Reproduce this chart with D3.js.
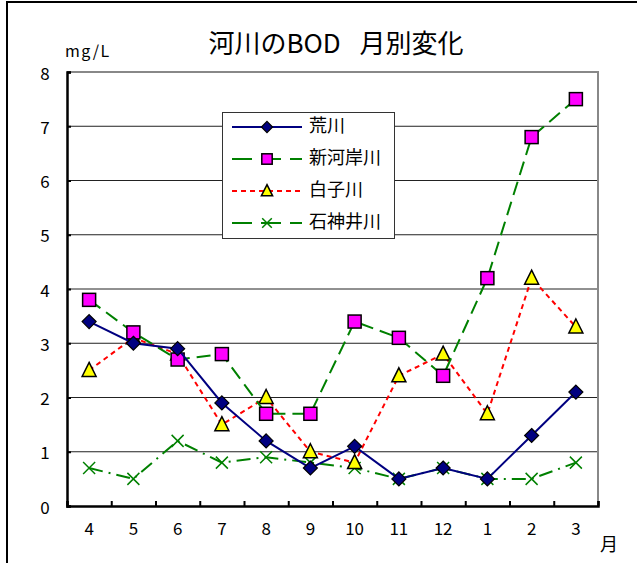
<!DOCTYPE html>
<html>
<head>
<meta charset="utf-8">
<script src="https://cdn.jsdelivr.net/npm/d3@7"></script>
<style>
  body { margin: 0; background: #fff; }
  text { font-family: "Noto Sans CJK JP", "DejaVu Sans", sans-serif; }
</style>
</head>
<body>
<div class="chartHolder"></div>
<script>
// chart data
var months = ["4", "5", "6", "7", "8", "9", "10", "11", "12", "1", "2", "3"];
var yTicks = [0, 1, 2, 3, 4, 5, 6, 7, 8];
var seriesNames = ["荒川", "新河岸川", "白子川", "石神井川"];
var arakawa = [3.4, 3.0, 2.9, 1.9, 1.2, 0.7, 1.1, 0.5, 0.7, 0.5, 1.3, 2.1];
var shingashi = [3.8, 3.2, 2.7, 2.8, 1.7, 1.7, 3.4, 3.1, 2.4, 4.2, 6.8, 7.5];
var shirako = [2.5, 3.1, 2.8, 1.5, 2.0, 1.0, 0.8, 2.4, 2.8, 1.7, 4.2, 3.3];
var shakujii = [0.7, 0.5, 1.2, 0.8, 0.9, 0.8, 0.7, 0.5, 0.7, 0.5, 0.5, 0.8];

var width = 637;
var height = 563;
var plot = { left: 67, top: 72, right: 598, bottom: 506 };

var svg = d3
  .select(".chartHolder")
  .append("svg")
  .attr("width", width)
  .attr("height", height);

// outer frame
svg.append("rect")
  .attr("x", 7).attr("y", 2)
  .attr("width", 700).attr("height", 700)
  .attr("fill", "none")
  .attr("stroke", "#000")
  .attr("stroke-width", 2);

var xScale = d3.scaleBand()
  .domain(months)
  .range([plot.left, plot.right]);

var yScale = d3.scaleLinear()
  .domain([0, 8])
  .range([plot.bottom, plot.top]);

// gridlines
svg.append("g")
  .selectAll("line")
  .data(yTicks.filter((d) => d > 0 && d < 8))
  .enter()
  .append("line")
  .attr("x1", plot.left)
  .attr("x2", plot.right)
  .attr("y1", (d) => yScale(d))
  .attr("y2", (d) => yScale(d))
  .attr("stroke", "#222")
  .attr("stroke-width", 1);

// plot border top/right (gray)
svg.append("path")
  .attr("d", "M" + plot.left + "," + plot.top + "H" + plot.right + "V" + plot.bottom)
  .attr("fill", "none")
  .attr("stroke", "#888")
  .attr("stroke-width", 2);

// y axis, ticks inside
var yAxis = d3.axisRight(yScale).tickValues(yTicks).tickSize(4).tickFormat("");
svg.append("g")
  .attr("transform", "translate(" + plot.left + ",0)")
  .call(yAxis)
  .call((g) => g.select(".domain").attr("stroke-width", 2.5))
  .call((g) => g.selectAll(".tick line").attr("stroke-width", 2));

svg.append("g")
  .selectAll("text")
  .data(yTicks)
  .enter()
  .append("text")
  .attr("x", 45)
  .attr("y", (d) => yScale(d) + 3)
  .attr("text-anchor", "middle")
  .attr("dominant-baseline", "middle")
  .attr("font-size", 17)
  .text((d) => d);

// x axis, ticks at category boundaries pointing up
var xBounds = d3.scaleLinear().domain([0, months.length]).range([plot.left, plot.right]);
var xAxis = d3.axisTop(xBounds).ticks(12).tickSize(5).tickFormat("");
svg.append("g")
  .attr("transform", "translate(0," + plot.bottom + ")")
  .call(xAxis)
  .call((g) => g.select(".domain").attr("stroke-width", 2.5))
  .call((g) => g.selectAll(".tick line").attr("stroke-width", 2));

svg.append("g")
  .selectAll("text")
  .data(months)
  .enter()
  .append("text")
  .attr("x", (d) => xScale(d) + xScale.bandwidth() / 2)
  .attr("y", 530)
  .attr("text-anchor", "middle")
  .attr("dominant-baseline", "middle")
  .attr("font-size", 17)
  .text((d) => d);

// labels
svg.append("text")
  .attr("x", 336).attr("y", 46)
  .attr("text-anchor", "middle")
  .attr("dominant-baseline", "middle")
  .attr("font-size", 26)
  .text("河川のBOD\u2002 月別変化");

svg.append("text")
  .attr("x", 65).attr("y", 53)
  .attr("dominant-baseline", "middle")
  .attr("font-size", 16)
  .attr("letter-spacing", 1.5)
  .text("mg/L");

svg.append("text")
  .attr("x", 609).attr("y", 546)
  .attr("text-anchor", "middle")
  .attr("dominant-baseline", "middle")
  .attr("font-size", 18)
  .text("月");

// series
var series = [
  { name: seriesNames[0], values: arakawa, color: "#000080", dash: null, legendDash: null, marker: "diamond" },
  { name: seriesNames[1], values: shingashi, color: "#008000", dash: "14,7", legendDash: "20,9", marker: "square" },
  { name: seriesNames[2], values: shirako, color: "#ff0000", dash: "5,4", legendDash: "5,4", marker: "triangle" },
  { name: seriesNames[3], values: shakujii, color: "#008000", dash: "14,6,2,6", legendDash: "20,9", marker: "cross" }
];

var line = d3.line()
  .x((d, i) => xScale(months[i]) + xScale.bandwidth() / 2)
  .y((d) => yScale(d));

function drawMarker(g, type, x, y, k) {
  k = k || 1;
  if (type === "diamond") {
    var r = 7 * k;
    g.append("path")
      .attr("d", "M" + x + "," + (y - r) + "L" + (x + r) + "," + y + "L" + x + "," + (y + r) + "L" + (x - r) + "," + y + "Z")
      .attr("fill", "#000080").attr("stroke", "#000").attr("stroke-width", 1.2);
  } else if (type === "square") {
    var s = 6.5 * k;
    g.append("rect")
      .attr("x", x - s).attr("y", y - s)
      .attr("width", 2 * s).attr("height", 2 * s)
      .attr("fill", "#ff00ff").attr("stroke", "#000").attr("stroke-width", 1.5);
  } else if (type === "triangle") {
    g.append("path")
      .attr("d", "M" + x + "," + (y - 8 * k) + "L" + (x + 7 * k) + "," + (y + 6 * k) + "L" + (x - 7 * k) + "," + (y + 6 * k) + "Z")
      .attr("fill", "#ffff00").attr("stroke", "#000").attr("stroke-width", 1.5);
  } else {
    var c = 6 * k;
    g.append("path")
      .attr("d", "M" + (x - c) + "," + (y - c) + "L" + (x + c) + "," + (y + c) + "M" + (x + c) + "," + (y - c) + "L" + (x - c) + "," + (y + c))
      .attr("stroke", "#008000").attr("stroke-width", 1.5).attr("fill", "none");
  }
}

// draw in reverse so 荒川 is on top
series.slice().reverse().forEach(function (s) {
  var g = svg.append("g");
  g.append("path")
    .datum(s.values)
    .attr("d", line)
    .attr("fill", "none")
    .attr("stroke", s.color)
    .attr("stroke-width", 2)
    .attr("stroke-dasharray", s.dash);
  s.values.forEach(function (v, i) {
    drawMarker(g, s.marker, xScale(months[i]) + xScale.bandwidth() / 2, yScale(v));
  });
});

// legend
var legend = svg.append("g");
legend.append("rect")
  .attr("x", 222.5).attr("y", 112.5)
  .attr("width", 172).attr("height", 126)
  .attr("fill", "#fff")
  .attr("stroke", "#333")
  .attr("stroke-width", 1);

series.forEach(function (s, i) {
  var y = 127 + i * 32;
  var lg = legend.append("g");
  lg.append("line")
    .attr("x1", 232).attr("x2", 302)
    .attr("y1", y).attr("y2", y)
    .attr("stroke", s.color)
    .attr("stroke-width", 2)
    .attr("stroke-dasharray", s.legendDash);
  drawMarker(lg, s.marker, 267, y, 0.8);
  lg.append("text")
    .attr("x", 309).attr("y", y)
    .attr("dominant-baseline", "middle")
    .attr("font-size", 18)
    .text(s.name);
});
</script>
</body>
</html>
